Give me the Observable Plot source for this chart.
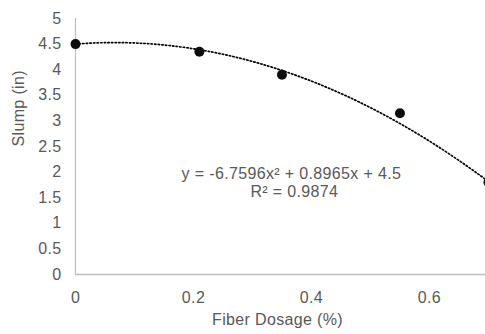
<!DOCTYPE html>
<html><head><meta charset="utf-8">
<script src="https://cdn.jsdelivr.net/npm/d3@7"></script>
<script src="https://cdn.jsdelivr.net/npm/@observablehq/plot@0.6"></script>
<style>body{margin:0;background:#fff;} svg{display:block;} svg text{letter-spacing:0.35px;}</style>
</head><body><div id="chart"></div>
<script>
const dosage = [0, 0.21, 0.35, 0.55, 0.7];
const slump = [4.5, 4.35, 3.9, 3.15, 1.8];
const trendCoef = [-6.7596, 0.8965, 4.5]; // a, b, c of the displayed polynomial trendline
const xTicks = [0, 0.2, 0.4, 0.6];
const yTicks = [0, 0.5, 1, 1.5, 2, 2.5, 3, 3.5, 4, 4.5, 5];
const eqText = "y = -6.7596x² + 0.8965x + 4.5";
const r2Text = "R² = 0.9874";
const xTitle = "Fiber Dosage (%)";
const yTitle = "Slump (in)";

const pts = dosage.map((d, i) => ({x: d, y: slump[i]}));
const trend = d3.range(0, 0.7001, 0.005).map(x => ({x, y: trendCoef[0]*x*x + trendCoef[1]*x + trendCoef[2]}));

const txt = "#595959";
const chart = Plot.plot({
  width: 485, height: 334,
  marginLeft: 75, marginRight: 0, marginTop: 18, marginBottom: 60,
  style: {fontFamily: "'Liberation Sans', Arial, sans-serif", fontSize: "16px", color: txt, background: "#fff"},
  x: {domain: [0, 0.695], ticks: xTicks, tickSize: 0, tickPadding: 17, label: null, tickFormat: d => String(d)},
  y: {domain: [0, 5], ticks: yTicks, tickSize: 0, tickPadding: 14, label: null, tickFormat: d => String(d)},
  marks: [
    Plot.ruleY([0], {stroke: "#bfbfbf", strokeWidth: 1.3}),
    Plot.ruleX([0], {stroke: "#bfbfbf", strokeWidth: 1.3}),
    Plot.line(trend, {x: "x", y: "y", stroke: "#000", strokeWidth: 1.7, strokeDasharray: "1.4 2.2"}),
    Plot.dot(pts, {x: "x", y: "y", r: 5, fill: "#0d0d0d", stroke: "none"}),
    Plot.text([eqText], {x: 0.366, y: 1.97, text: d => d, fill: txt, fontSize: 16, textAnchor: "middle"}),
    Plot.text([r2Text], {x: 0.371, y: 1.62, text: d => d, fill: txt, fontSize: 16, textAnchor: "middle"}),
    Plot.text([yTitle], {frameAnchor: "left", dx: -57, dy: 0, rotate: -90, text: d => d, fill: txt, fontSize: 16}),
    Plot.text([xTitle], {frameAnchor: "bottom", dy: 50, dx: -3, text: d => d, fill: txt, fontSize: 16})
  ]
});
document.getElementById("chart").appendChild(chart);
</script></body></html>
